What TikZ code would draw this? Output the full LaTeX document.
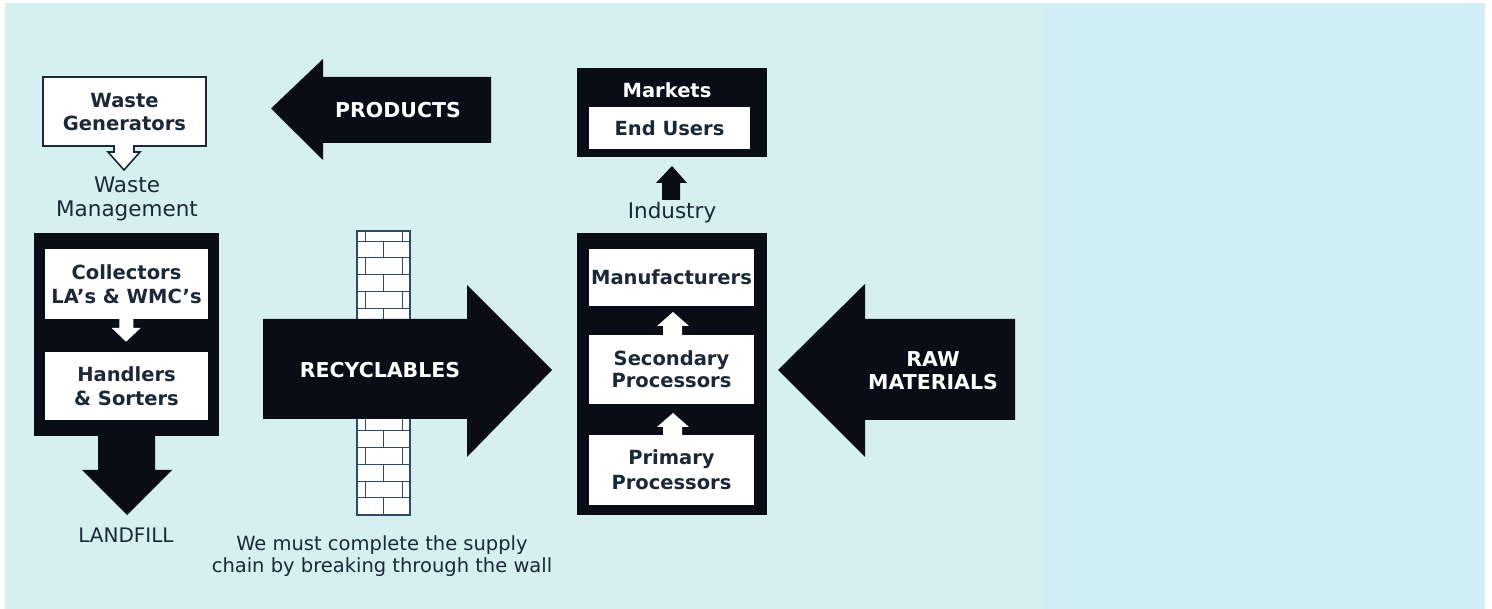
\documentclass[tikz,border=0pt]{standalone}
\usepackage{fontspec}
\setmainfont{DejaVu Sans}
\definecolor{bgL}{RGB}{214,239,241}
\definecolor{bgR}{RGB}{209,238,247}
\definecolor{ink}{RGB}{10,13,24}
\definecolor{txt}{RGB}{27,40,56}
\definecolor{brickc}{RGB}{45,75,105}
\begin{document}
\begin{tikzpicture}[x=1pt,y=-1pt,
  lbl/.style={font=\fontsize{19.5}{23.5}\selectfont\bfseries, text=txt, align=center, inner sep=0pt},
  wlbl/.style={lbl, font=\fontsize{20.5}{23}\selectfont\bfseries, text=white},
  plain/.style={font=\fontsize{21.5}{24}\selectfont, text=txt, align=center, inner sep=0pt},
  wbox/.style={fill=white, draw=none, inner sep=0pt, align=center, font=\fontsize{19.5}{23.5}\selectfont\bfseries, text=txt},
  blk/.style={fill=ink},
  brk/.style={draw=brickc, line width=0.7pt}
]
\useasboundingbox (0,0) rectangle (1492,609);
\fill[white] (0,0) rectangle (1492,609);
\fill[bgL] (5,3) rectangle (1043,609);
\fill[bgR] (1043,3) rectangle (1485,609);

% ---------- Waste generators ----------
\draw[fill=white, draw=txt, line width=1.6pt]
  (43,77) -- (206,77) -- (206,146) -- (134,146) -- (134,152) -- (140,152)
  -- (124,170) -- (108,152) -- (114,152) -- (114,146) -- (43,146) -- cycle;
\node[lbl] (wg) at (124.5,112) {Waste\\Generators};
\node[plain] (wm) at (127,199) {Waste\\Management};

% ---------- Waste management block ----------
\fill[blk] (34,233) rectangle (219,436);
\node[wbox, minimum width=163pt, minimum height=70pt] (coll) at (126.5,284) {Collectors\\LA's \& WMC's};
\node[wbox, minimum width=163pt, minimum height=68pt] (hand) at (126.5,386) {Handlers\\\& Sorters};
\fill[white] (119.3,318) -- (133.3,318) -- (133.3,328) -- (140.7,328) -- (126,341.7)
  -- (111.7,328) -- (119.3,328) -- cycle;
% landfill arrow
\fill[blk] (98,435) -- (155,435) -- (155,470) -- (172,470) -- (127,515) -- (82,470) -- (98,470) -- cycle;
\node[plain, font=\fontsize{20}{22}\selectfont] (lf) at (126,535) {LANDFILL};

% ---------- Products arrow ----------
\fill[blk] (491,77) -- (491,143) -- (323,143) -- (323,160) -- (271,108.5) -- (323,59) -- (323,77) -- cycle;
\node[wlbl] (prod) at (398,110) {PRODUCTS};

% ---------- Wall ----------
\draw[fill=white, draw=brickc, line width=1.2pt] (357,231) rectangle (410,515);
\foreach \y in {241,257.5,274,291,308,430,447,464,481,497}
  \draw[brk] (357,\y) -- (410,\y);
% side joints / centre joints alternate, top part
\foreach \a/\b in {231/241,257.5/274,291/308}
  \draw[brk] (365,\a) -- (365,\b) (402.5,\a) -- (402.5,\b);
\foreach \a/\b in {241/257.5,274/291,308/319}
  \draw[brk] (383.5,\a) -- (383.5,\b);
% bottom part
\foreach \a/\b in {419/430,447/464,481/497}
  \draw[brk] (365,\a) -- (365,\b) (402.5,\a) -- (402.5,\b);
\foreach \a/\b in {430/447,464/481,497/515}
  \draw[brk] (383.5,\a) -- (383.5,\b);

% ---------- Recyclables arrow ----------
\fill[blk] (263,319) -- (467,319) -- (467,285) -- (552,370) -- (467,457) -- (467,419) -- (263,419) -- cycle;
\node[wlbl] (rec) at (380,370) {RECYCLABLES};
\node[plain, font=\fontsize{19.5}{22}\selectfont] (cap) at (382,556) {We must complete the supply\\chain by breaking through the wall};

% ---------- Markets ----------
\fill[blk] (577,68) rectangle (767,157);
\node[lbl, text=white] (mk) at (667,90) {Markets};
\node[wbox, minimum width=161pt, minimum height=42pt] (eu) at (669.5,128) {End Users};
\fill[blk] (662,200) -- (680,200) -- (680,183) -- (687,183) -- (672,166) -- (656,183) -- (662,183) -- cycle;
\node[plain] (ind) at (672,213) {Industry};

% ---------- Industry block ----------
\fill[blk] (577,233) rectangle (767,515);
\node[wbox, minimum width=165pt, minimum height=57pt] (man) at (671.5,277.5) {Manufacturers};
\node[wbox, minimum width=165pt, minimum height=69pt, font=\fontsize{19.5}{22}\selectfont\bfseries] (sec) at (671.5,369.5) {Secondary\\Processors};
\node[wbox, minimum width=165pt, minimum height=70pt, font=\fontsize{19.5}{25}\selectfont\bfseries] (pri) at (671.5,470) {Primary\\Processors};
\fill[white] (663,336) -- (682,336) -- (682,326) -- (689,326) -- (673,312) -- (657,326) -- (663,326) -- cycle;
\fill[white] (663,436) -- (682,436) -- (682,427) -- (689,427) -- (673,413) -- (657,427) -- (663,427) -- cycle;

% ---------- Raw materials arrow ----------
\fill[blk] (1015,319) -- (1015,420) -- (865,420) -- (865,457) -- (778,370) -- (865,284) -- (865,319) -- cycle;
\node[wlbl] (raw) at (933,371) {RAW\\MATERIALS};
\end{tikzpicture}
\end{document}
